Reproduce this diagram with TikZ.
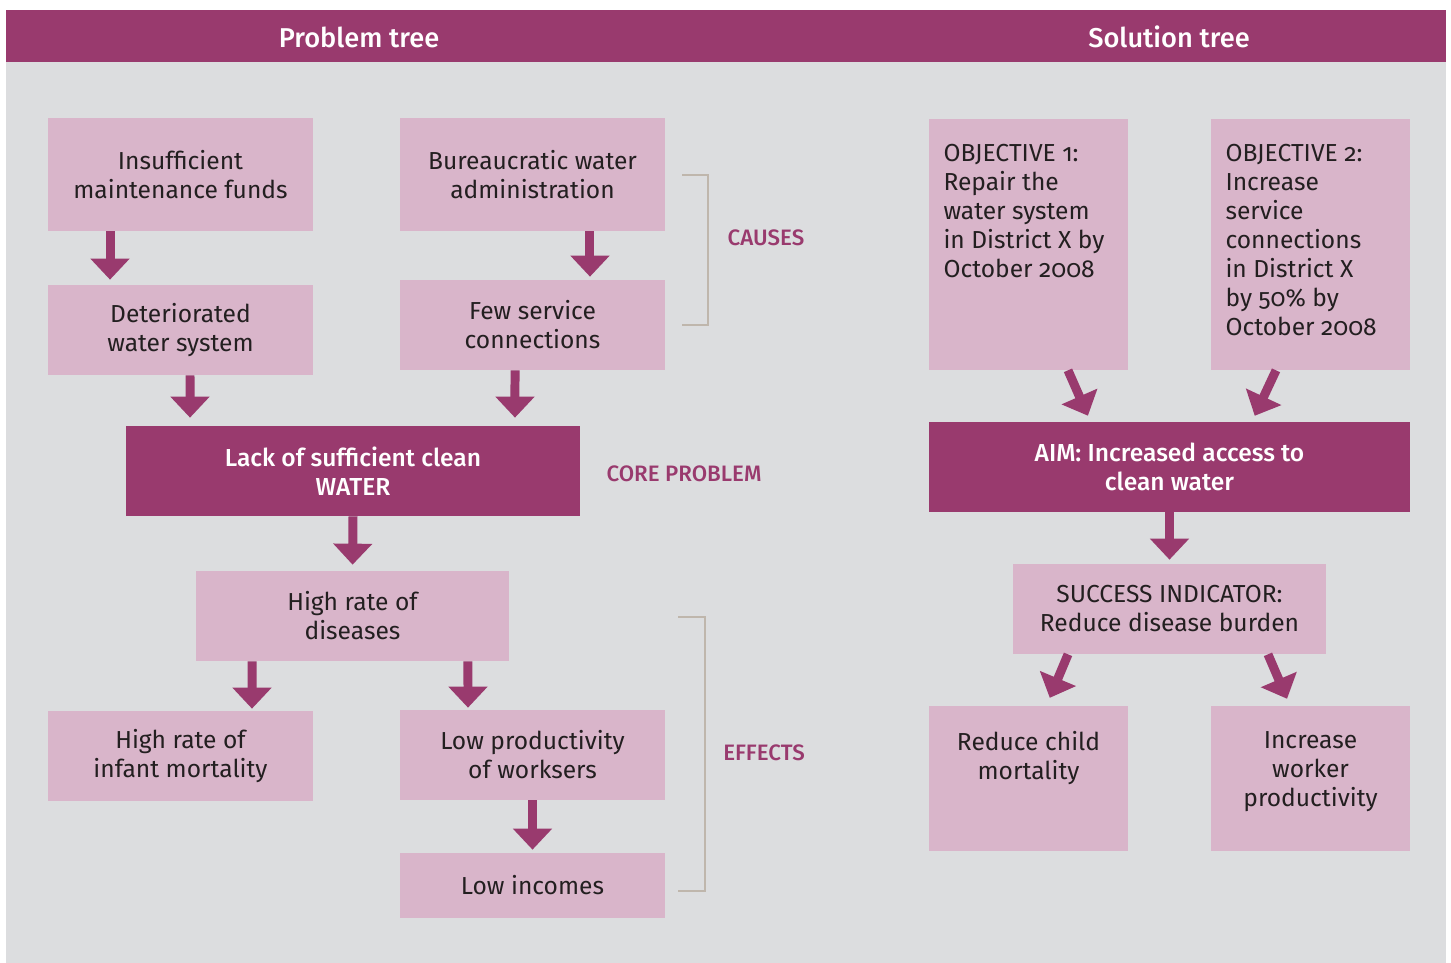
\documentclass[tikz,border=0pt]{standalone}
\usepackage{fontspec}
\setmainfont{Fira Sans}[Numbers=OldStyle,BoldFont={Fira Sans Medium}]
\usetikzlibrary{arrows.meta}
\definecolor{treepurple}{HTML}{993A6E}
\definecolor{treepink}{HTML}{D9B5CA}
\definecolor{treegray}{HTML}{DCDDDF}
\definecolor{treebrace}{HTML}{BFB6AC}
\definecolor{treetext}{HTML}{231F20}
\begin{document}
\begin{tikzpicture}[x=0.02cm,y=-0.02cm,
    pbox/.style={fill=treepink,text=treetext,align=center,inner sep=0pt,
      font=\fontsize{14}{16.5}\selectfont},
    cbox/.style={fill=treepurple,text=white,align=center,inner sep=0pt,
      font=\fontsize{14}{16.5}\selectfont\bfseries},
    tag/.style={text=treepurple,font=\fontsize{12.7}{15}\selectfont\bfseries},
    fat/.style={draw=treepurple,line width=0.18cm,
      -{Triangle[width=0.76cm,length=0.42cm]}},
    brace/.style={draw=treebrace,line width=0.04cm}]
  \useasboundingbox (0,0) rectangle (1451,963);
  \fill[treegray] (6,62) rectangle (1446,963);
  \fill[treepurple] (6,10) rectangle (1446,62);
  \node[text=white,font=\fontsize{15.5}{18}\selectfont\bfseries] (ptitle) at (359,37) {Problem tree};
  \node[text=white,font=\fontsize{15.5}{18}\selectfont\bfseries] (stitle) at (1169,37) {Solution tree};

  \node[pbox,minimum width=5.3cm,minimum height=2.26cm] (insuf) at (180.5,174.5) {Insufficient\\maintenance funds};
  \node[pbox,minimum width=5.3cm,minimum height=2.26cm] (bureau) at (532.5,174.5) {Bureaucratic water\\administration};
  \node[pbox,minimum width=5.3cm,minimum height=1.8cm] (deter) at (180.5,330) {Deteriorated\\water system};
  \node[pbox,minimum width=5.3cm,minimum height=1.8cm] (few) at (532.5,325) {Few service\\connections};
  \node[cbox,minimum width=9.08cm,minimum height=1.8cm] (core) at (353,471) {Lack of sufficient clean\\WATER};
  \node[pbox,minimum width=6.26cm,minimum height=1.8cm] (disease) at (352.5,616) {High rate of\\diseases};
  \node[pbox,minimum width=5.3cm,minimum height=1.8cm] (infant) at (180.5,756) {High rate of\\infant mortality};
  \node[pbox,minimum width=5.3cm,minimum height=1.8cm] (lowprod) at (532.5,755) {Low productivity\\of worksers};
  \node[pbox,minimum width=5.3cm,minimum height=1.3cm] (income) at (532.5,885.5) {Low incomes};

  \node[tag] (causes) at (766,238) {CAUSES};
  \node[tag] (coreproblem) at (684,474) {CORE PROBLEM};
  \node[tag] (effects) at (764,753) {EFFECTS};
  \draw[brace] (682,175) -- (708,175) -- (708,325) -- (682,325);
  \draw[brace] (678,617) -- (705,617) -- (705,891) -- (678,891);

  \node[pbox,minimum width=3.98cm,minimum height=5.02cm] (obj1) at (1028.5,244.5)
    {\parbox[c][4.02cm][t]{3.4cm}{\raggedright OBJECTIVE 1:\\Repair the\\water system\\in District X by\\October 2008}};
  \node[pbox,minimum width=3.98cm,minimum height=5.02cm] (obj2) at (1310.5,244.5)
    {\parbox[c][4.02cm][t]{3.4cm}{\raggedright OBJECTIVE 2:\\Increase\\service\\connections\\in District X\\by 50\% by\\October 2008}};
  \node[cbox,minimum width=9.62cm,minimum height=1.8cm] (aim) at (1169.5,467) {AIM: Increased access to\\clean water};
  \node[pbox,minimum width=6.26cm,minimum height=1.8cm] (success) at (1169.5,609) {SUCCESS INDICATOR:\\Reduce disease burden};
  \node[pbox,minimum width=3.98cm,minimum height=2.9cm] (child) at (1028.5,778.5)
    {\parbox[c][1.88cm][t]{3.6cm}{\centering Reduce child\\mortality}};
  \node[pbox,minimum width=3.98cm,minimum height=2.9cm] (worker) at (1310.5,778.5)
    {\parbox[c][1.88cm][t]{3.6cm}{\centering Increase\\worker\\productivity}};

  \begin{scope}[fat]
    \draw[shorten >=0.1cm] ([xshift=-1.41cm]insuf.south) to ([xshift=-1.41cm]deter.north);
    \draw[shorten >=0.06cm] ([xshift=1.15cm]bureau.south) to ([xshift=1.15cm]few.north);
    \draw[shorten >=0.16cm] ([xshift=0.19cm]deter.south) to ([xshift=-3.26cm]core.north);
    \draw[shorten >=0.16cm] ([xshift=-0.35cm]few.south) to ([xshift=3.24cm]core.north);
    \draw[shorten >=0.12cm] (core.south) to (disease.north);
    \draw[shorten >=0.04cm] ([xshift=-2.01cm]disease.south) to ([xshift=1.43cm]infant.north);
    \draw[shorten >=0.04cm] ([xshift=2.31cm]disease.south) to ([xshift=-1.29cm]lowprod.north);
    \draw[shorten >=0.06cm] (lowprod.south) to (income.north);
    \draw[shorten >=0.13cm] ([xshift=0.79cm]obj1.south) to ([xshift=-1.58cm]aim.north);
    \draw[shorten >=0.13cm] ([xshift=-0.69cm]obj2.south) to ([xshift=1.65cm]aim.north);
    \draw[shorten >=0.08cm] (aim.south) to (success.north);
    \draw[shorten >=0.17cm] ([xshift=-2.03cm]success.south) to ([xshift=0.36cm]child.north);
    \draw[shorten >=0.15cm] ([xshift=1.97cm]success.south) to ([xshift=-0.41cm]worker.north);
  \end{scope}
\end{tikzpicture}
\end{document}
